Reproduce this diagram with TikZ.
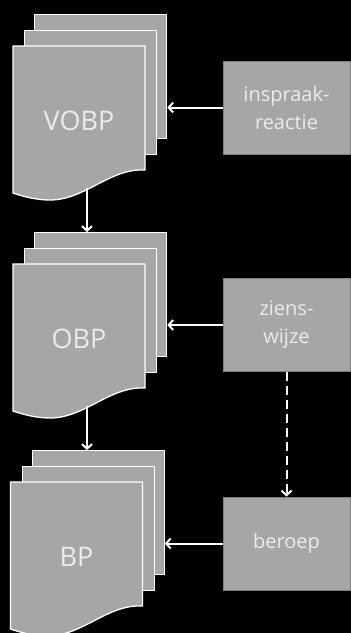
\documentclass[tikz,border=0pt]{standalone}
\usepackage{fontspec}
\setmainfont{Open Sans}
\usetikzlibrary{positioning,arrows.meta}

\definecolor{sheetgrey}{HTML}{A6A6A6}
\definecolor{boxline}{HTML}{7F7F7F}
\definecolor{lighttext}{HTML}{EBEBEB}

\tikzset{
	sheet/.style={rectangle, fill=sheetgrey, draw=white, line width=1.3pt, minimum width=132pt, minimum height=124pt, anchor=north west},
	inbox/.style={rectangle, fill=sheetgrey, draw=boxline, line width=1pt, minimum width=127pt, minimum height=93pt, align=center, text=lighttext, font=\fontsize{20}{28}\selectfont},
	doclabel/.style={text=lighttext, font=\fontsize{27}{30}\selectfont},
	flow/.style={draw=white, line width=2pt, -{Straight Barb[length=4.5pt,width=10pt]}}
}

% stack of three sheets: x shift, y shift, name, label
\newcommand{\docstack}[4]{
	\begin{scope}[shift={(#1,#2)}]
		\node[sheet] (#3-back) at (34,14) {};
		\node[sheet] (#3-mid) at (24,30) {};
		\path[fill=sheetgrey, draw=white, line width=1.3pt]
			(13,46) -- (145,46) -- (145,170)
			.. controls (110,168) and (85,200) .. (50,200)
			.. controls (35,200) and (22,196) .. (13,193) -- cycle;
		\node[doclabel] (#3) at (79,121) {#4};
		\coordinate (#3-bot) at (87,188);
	\end{scope}
}

\begin{document}
\begin{tikzpicture}[x=1pt, y=-1pt]
	\fill[black] (0,0) rectangle (351,633);
	\useasboundingbox (0,0) rectangle (351,633);

	\docstack{0}{0}{vobp}{VOBP}
	\docstack{0}{218}{obp}{OBP}
	\docstack{-2.5}{436}{bp}{BP}

	\node[inbox] (inspraak) at (286.5,107.5) {inspraak-\\reactie};
	\node[inbox] (ziens) at (286.5,325) {ziens-\\wijze};
	\node[inbox] (beroep) at (286.5,543.5) {beroep};

	\draw[flow] (vobp-bot) -- (vobp-bot |- obp-back.north);
	\draw[flow] (obp-bot) -- (obp-bot |- bp-back.north);
	\draw[flow] (inspraak.west) -- (inspraak.west -| vobp-back.east);
	\draw[flow] (ziens.west) -- (ziens.west -| obp-back.east);
	\draw[flow] (beroep.west) -- (beroep.west -| bp-back.east);
	\draw[flow, dash pattern=on 9pt off 5pt] (ziens.south) -- (beroep.north);
\end{tikzpicture}
\end{document}
